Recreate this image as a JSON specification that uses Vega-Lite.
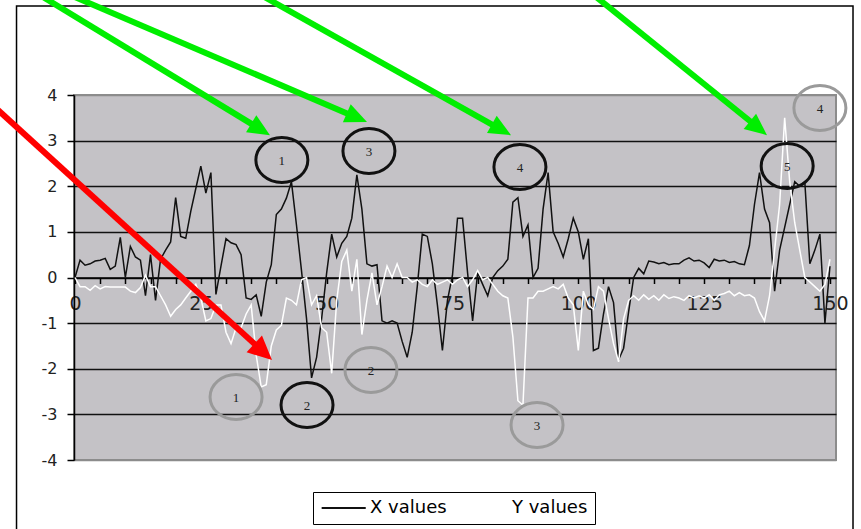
{
  "$schema": "https://vega.github.io/schema/vega-lite/v6.json",
  "width": 762,
  "height": 365,
  "autosize": {"type": "none"},
  "padding": {"left": 74, "top": 95, "right": 25, "bottom": 69},
  "background": "white",
  "config": {
    "view": {"fill": "#c4c2c6", "stroke": "#8c8c8c", "strokeWidth": 2},
    "font": "DejaVu Sans",
    "axis": {"labelOverlap": false, "labelFlush": false, "labelBound": false}
  },
  "datasets": {
    "frame": [{"x": -11.62, "x2": 154.58, "y": 5.95, "y2": -6.5}],
    "series": [
      {"t":0,"X values":0.0,"Y values":0.0},{"t":1,"X values":0.38,"Y values":-0.2},{"t":2,"X values":0.27,"Y values":-0.2},{"t":3,"X values":0.3,"Y values":-0.28},{"t":4,"X values":0.36,"Y values":-0.18},{"t":5,"X values":0.38,"Y values":-0.25},{"t":6,"X values":0.42,"Y values":-0.2},{"t":7,"X values":0.18,"Y values":-0.21},{"t":8,"X values":0.25,"Y values":-0.21},{"t":9,"X values":0.88,"Y values":-0.21},
      {"t":10,"X values":0.0,"Y values":-0.21},{"t":11,"X values":0.68,"Y values":-0.3},{"t":12,"X values":0.45,"Y values":-0.33},{"t":13,"X values":0.38,"Y values":-0.22},{"t":14,"X values":-0.4,"Y values":0.05},{"t":15,"X values":0.5,"Y values":-0.2},{"t":16,"X values":-0.5,"Y values":-0.2},{"t":17,"X values":0.4,"Y values":-0.4},{"t":18,"X values":0.6,"Y values":-0.6},{"t":19,"X values":0.78,"Y values":-0.85},
      {"t":20,"X values":1.75,"Y values":-0.7},{"t":21,"X values":0.9,"Y values":-0.6},{"t":22,"X values":0.86,"Y values":-0.45},{"t":23,"X values":1.45,"Y values":-0.3},{"t":24,"X values":1.95,"Y values":-0.15},{"t":25,"X values":2.44,"Y values":-0.45},{"t":26,"X values":1.85,"Y values":-0.95},{"t":27,"X values":2.3,"Y values":-0.9},{"t":28,"X values":-0.37,"Y values":-0.6},{"t":29,"X values":0.25,"Y values":-0.6},
      {"t":30,"X values":0.85,"Y values":-1.2},{"t":31,"X values":0.76,"Y values":-1.45},{"t":32,"X values":0.72,"Y values":-1.1},{"t":33,"X values":0.5,"Y values":-1.1},{"t":34,"X values":-0.45,"Y values":-0.8},{"t":35,"X values":-0.48,"Y values":-0.6},{"t":36,"X values":-0.38,"Y values":-1.7},{"t":37,"X values":-0.85,"Y values":-2.4},{"t":38,"X values":-0.1,"Y values":-2.35},{"t":39,"X values":0.28,"Y values":-1.5},
      {"t":40,"X values":1.38,"Y values":-1.15},{"t":41,"X values":1.5,"Y values":-1.05},{"t":42,"X values":1.74,"Y values":-0.45},{"t":43,"X values":2.1,"Y values":-0.5},{"t":44,"X values":1.15,"Y values":-0.6},{"t":45,"X values":0.15,"Y values":-0.05},{"t":46,"X values":-0.9,"Y values":0.0},{"t":47,"X values":-2.2,"Y values":-0.6},{"t":48,"X values":-1.75,"Y values":-0.4},{"t":49,"X values":-0.9,"Y values":-1.1},
      {"t":50,"X values":0.1,"Y values":-1.2},{"t":51,"X values":0.95,"Y values":-2.1},{"t":52,"X values":0.45,"Y values":-0.5},{"t":53,"X values":0.75,"Y values":0.35},{"t":54,"X values":0.9,"Y values":0.6},{"t":55,"X values":1.3,"Y values":-0.3},{"t":56,"X values":2.25,"Y values":0.4},{"t":57,"X values":1.5,"Y values":-1.25},{"t":58,"X values":0.3,"Y values":-0.5},{"t":59,"X values":0.25,"Y values":0.1},
      {"t":60,"X values":0.28,"Y values":-0.6},{"t":61,"X values":-0.95,"Y values":-0.2},{"t":62,"X values":-1.0,"Y values":0.25},{"t":63,"X values":-0.95,"Y values":0.0},{"t":64,"X values":-1.0,"Y values":0.3},{"t":65,"X values":-1.4,"Y values":0.0},{"t":66,"X values":-1.75,"Y values":0.0},{"t":67,"X values":-1.2,"Y values":-0.1},{"t":68,"X values":-0.2,"Y values":-0.05},{"t":69,"X values":0.95,"Y values":-0.15},
      {"t":70,"X values":0.9,"Y values":-0.2},{"t":71,"X values":0.3,"Y values":-0.05},{"t":72,"X values":-0.6,"Y values":-0.15},{"t":73,"X values":-1.6,"Y values":-0.1},{"t":74,"X values":-0.5,"Y values":-0.05},{"t":75,"X values":0.05,"Y values":-0.15},{"t":76,"X values":1.3,"Y values":-0.05},{"t":77,"X values":1.3,"Y values":0.0},{"t":78,"X values":0.1,"Y values":-0.2},{"t":79,"X values":-0.95,"Y values":-0.05},
      {"t":80,"X values":0.1,"Y values":0.15},{"t":81,"X values":-0.15,"Y values":-0.05},{"t":82,"X values":-0.4,"Y values":0.0},{"t":83,"X values":0.0,"Y values":-0.15},{"t":84,"X values":0.15,"Y values":-0.3},{"t":85,"X values":0.25,"Y values":-0.4},{"t":86,"X values":0.4,"Y values":-0.45},{"t":87,"X values":1.65,"Y values":-1.3},{"t":88,"X values":1.75,"Y values":-2.7},{"t":89,"X values":0.9,"Y values":-2.8},
      {"t":90,"X values":1.15,"Y values":-0.45},{"t":91,"X values":0.0,"Y values":-0.45},{"t":92,"X values":0.2,"Y values":-0.3},{"t":93,"X values":1.5,"Y values":-0.3},{"t":94,"X values":2.3,"Y values":-0.25},{"t":95,"X values":1.0,"Y values":-0.2},{"t":96,"X values":0.75,"Y values":-0.25},{"t":97,"X values":0.45,"Y values":-0.15},{"t":98,"X values":0.85,"Y values":-0.45},{"t":99,"X values":1.3,"Y values":-0.6},
      {"t":100,"X values":1.0,"Y values":-1.6},{"t":101,"X values":0.4,"Y values":-0.3},{"t":102,"X values":0.85,"Y values":-0.6},{"t":103,"X values":-1.6,"Y values":-0.7},{"t":104,"X values":-1.55,"Y values":-0.2},{"t":105,"X values":-0.8,"Y values":-0.3},{"t":106,"X values":-0.2,"Y values":-0.9},{"t":107,"X values":-0.55,"Y values":-1.45},{"t":108,"X values":-1.8,"Y values":-1.85},{"t":109,"X values":-1.55,"Y values":-0.9},
      {"t":110,"X values":-0.75,"Y values":-0.5},{"t":111,"X values":0.0,"Y values":-0.4},{"t":112,"X values":0.2,"Y values":-0.5},{"t":113,"X values":0.08,"Y values":-0.38},{"t":114,"X values":0.36,"Y values":-0.48},{"t":115,"X values":0.34,"Y values":-0.4},{"t":116,"X values":0.3,"Y values":-0.5},{"t":117,"X values":0.33,"Y values":-0.38},{"t":118,"X values":0.28,"Y values":-0.46},{"t":119,"X values":0.3,"Y values":-0.42},
      {"t":120,"X values":0.3,"Y values":-0.45},{"t":121,"X values":0.38,"Y values":-0.5},{"t":122,"X values":0.43,"Y values":-0.4},{"t":123,"X values":0.36,"Y values":-0.45},{"t":124,"X values":0.38,"Y values":-0.4},{"t":125,"X values":0.32,"Y values":-0.45},{"t":126,"X values":0.22,"Y values":-0.38},{"t":127,"X values":0.4,"Y values":-0.5},{"t":128,"X values":0.36,"Y values":-0.38},{"t":129,"X values":0.38,"Y values":-0.35},
      {"t":130,"X values":0.33,"Y values":-0.3},{"t":131,"X values":0.35,"Y values":-0.4},{"t":132,"X values":0.3,"Y values":-0.33},{"t":133,"X values":0.28,"Y values":-0.4},{"t":134,"X values":0.7,"Y values":-0.38},{"t":135,"X values":1.6,"Y values":-0.45},{"t":136,"X values":2.3,"Y values":-0.75},{"t":137,"X values":1.5,"Y values":-0.95},{"t":138,"X values":1.2,"Y values":-0.4},{"t":139,"X values":-0.3,"Y values":0.6},
      {"t":140,"X values":0.6,"Y values":1.6},{"t":141,"X values":1.1,"Y values":3.5},{"t":142,"X values":1.6,"Y values":2.1},{"t":143,"X values":2.1,"Y values":1.2},{"t":144,"X values":2.0,"Y values":0.6},{"t":145,"X values":2.1,"Y values":0.0},{"t":146,"X values":0.3,"Y values":-0.1},{"t":147,"X values":0.6,"Y values":-0.2},{"t":148,"X values":0.95,"Y values":-0.3},{"t":149,"X values":-1.0,"Y values":-0.15},
      {"t":150,"X values":0.25,"Y values":0.4}
    ],
    "circles": [
      {"series":"X values","label":"1","x":41.1,"y":2.575},
      {"series":"X values","label":"2","x":46.1,"y":-2.795},
      {"series":"X values","label":"3","x":58.4,"y":2.773},
      {"series":"X values","label":"4","x":88.4,"y":2.422},
      {"series":"X values","label":"5","x":141.5,"y":2.444},
      {"series":"Y values","label":"1","x":32.0,"y":-2.619},
      {"series":"Y values","label":"2","x":58.8,"y":-2.027},
      {"series":"Y values","label":"3","x":91.8,"y":-3.233},
      {"series":"Y values","label":"4","x":148.0,"y":3.715}
    ],
    "arrows": [
      {"points_to":"X values","x":-8.62,"y":6.30,"x2":36.36,"y2":3.28,"tx":38.74,"ty":3.12,"heading":31.3},
      {"points_to":"X values","x":-3.26,"y":6.30,"x2":55.45,"y2":3.53,"tx":58.02,"ty":3.41,"heading":23.2},
      {"points_to":"X values","x":35.19,"y":6.30,"x2":84.20,"y2":3.27,"tx":86.63,"ty":3.12,"heading":29.3},
      {"points_to":"X values","x":101.85,"y":6.30,"x2":135.32,"y2":3.32,"tx":137.49,"ty":3.12,"heading":38.9},
      {"points_to":"Y values","x":-16.89,"y":3.83,"x2":37.10,"y2":-1.60,"tx":39.14,"ty":-1.81,"heading":42.4}
    ]
  },
  "layer": [
    {
      "data": {"name": "series"},
      "transform": [{"fold": ["X values", "Y values"], "as": ["series", "value"]}],
      "mark": {"type": "line", "strokeWidth": 1.5},
      "encoding": {
        "x": {
          "field": "t", "type": "quantitative",
          "scale": {"domain": [-0.2, 151.2], "nice": false, "zero": false},
          "axis": {
            "orient": "bottom", "offset": -182.5, "title": null,
            "tickCount": 30,
            "labelExpr": "datum.value % 25 === 0 ? datum.label : ''",
            "grid": false, "domainColor": "black", "domainWidth": 1.5,
            "tickColor": "black", "tickSize": 6, "tickWidth": 1.5,
            "labelFont": "DejaVu Sans", "labelFontSize": 19, "labelColor": "#222222",
            "labelPadding": 11, "labelFlush": false, "labelOverlap": false
          }
        },
        "y": {
          "field": "value", "type": "quantitative",
          "scale": {"domain": [-4, 4], "nice": false, "zero": false},
          "axis": {
            "orient": "left", "title": null,
            "tickCount": 8,
            "labelExpr": "'' + datum.value",
            "grid": true,
            "gridColor": {"condition": {"test": "abs(datum.value) === 4", "value": "#8c8c8c"}, "value": "#111111"},
            "gridWidth": 1.3,
            "domainColor": "black", "domainWidth": 1.5,
            "tickColor": "black", "tickSize": 7, "tickWidth": 1.5,
            "labelFont": "DejaVu Sans", "labelFontSize": 16, "labelColor": "#222222",
            "labelPadding": 10
          }
        },
        "color": {
          "field": "series", "type": "nominal",
          "scale": {"domain": ["X values", "Y values"], "range": ["#111111", "#ffffff"]},
          "legend": {
            "orient": "none", "legendX": 239, "legendY": 397, "direction": "horizontal",
            "title": null, "symbolType": "M-1,0L5,0", "symbolSize": 216, "symbolStrokeWidth": 2,
            "labelFont": "DejaVu Sans", "labelFontSize": 18, "labelColor": "black",
            "strokeColor": "black", "fillColor": "white", "padding": 7,
            "columnPadding": 12, "labelOffset": 32
          }
        }
      }
    },
    {
      "data": {"name": "frame"},
      "mark": {"type": "rect", "fillOpacity": 0, "stroke": "black", "strokeWidth": 1.5},
      "encoding": {
        "x": {"field": "x", "type": "quantitative", "scale": {"domain": [-0.2, 151.2], "nice": false, "zero": false}},
        "x2": {"field": "x2"},
        "y": {"field": "y", "type": "quantitative", "scale": {"domain": [-4, 4], "nice": false, "zero": false}},
        "y2": {"field": "y2"}
      }
    },
    {
      "data": {"name": "circles"},
      "transform": [{"filter": "datum.series === 'X values'"}],
      "mark": {"type": "point", "shape": "M1,0C1,0.478,0.552,0.865,0,0.865C-0.552,0.865,-1,0.478,-1,0C-1,-0.478,-0.552,-0.865,0,-0.865C0.552,-0.865,1,-0.478,1,0Z", "size": 2704, "filled": false, "color": "#111111", "strokeWidth": 3, "opacity": 1},
      "encoding": {
        "x": {"field": "x", "type": "quantitative", "scale": {"domain": [-0.2, 151.2], "nice": false, "zero": false}},
        "y": {"field": "y", "type": "quantitative", "scale": {"domain": [-4, 4], "nice": false, "zero": false}}
      }
    },
    {
      "data": {"name": "circles"},
      "transform": [{"filter": "datum.series === 'Y values'"}],
      "mark": {"type": "point", "shape": "M1,0C1,0.478,0.552,0.865,0,0.865C-0.552,0.865,-1,0.478,-1,0C-1,-0.478,-0.552,-0.865,0,-0.865C0.552,-0.865,1,-0.478,1,0Z", "size": 2704, "filled": false, "color": "#9a9a9a", "strokeWidth": 3, "opacity": 1},
      "encoding": {
        "x": {"field": "x", "type": "quantitative", "scale": {"domain": [-0.2, 151.2], "nice": false, "zero": false}},
        "y": {"field": "y", "type": "quantitative", "scale": {"domain": [-4, 4], "nice": false, "zero": false}}
      }
    },
    {
      "data": {"name": "circles"},
      "mark": {"type": "text", "font": "Liberation Serif", "fontSize": 13, "color": "#222222", "dy": 1},
      "encoding": {
        "x": {"field": "x", "type": "quantitative", "scale": {"domain": [-0.2, 151.2], "nice": false, "zero": false}},
        "y": {"field": "y", "type": "quantitative", "scale": {"domain": [-4, 4], "nice": false, "zero": false}},
        "text": {"field": "label"}
      }
    },
    {
      "data": {"name": "arrows"},
      "transform": [{"filter": "datum.points_to === 'X values'"}],
      "mark": {"type": "rule", "color": "#00ee00", "strokeWidth": 6, "strokeCap": "butt"},
      "encoding": {
        "x": {"field": "x", "type": "quantitative", "scale": {"domain": [-0.2, 151.2], "nice": false, "zero": false}},
        "y": {"field": "y", "type": "quantitative", "scale": {"domain": [-4, 4], "nice": false, "zero": false}},
        "x2": {"field": "x2"},
        "y2": {"field": "y2"}
      }
    },
    {
      "data": {"name": "arrows"},
      "transform": [{"filter": "datum.points_to === 'Y values'"}],
      "mark": {"type": "rule", "color": "#ff0000", "strokeWidth": 6, "strokeCap": "butt"},
      "encoding": {
        "x": {"field": "x", "type": "quantitative", "scale": {"domain": [-0.2, 151.2], "nice": false, "zero": false}},
        "y": {"field": "y", "type": "quantitative", "scale": {"domain": [-4, 4], "nice": false, "zero": false}},
        "x2": {"field": "x2"},
        "y2": {"field": "y2"}
      }
    },
    {
      "data": {"name": "arrows"},
      "transform": [{"filter": "datum.points_to === 'X values'"}],
      "mark": {"type": "point", "shape": "M0,0L-2,-0.9L-2,0.9Z", "size": 484, "filled": true, "color": "#00ee00", "opacity": 1, "strokeWidth": 0},
      "encoding": {
        "x": {"field": "tx", "type": "quantitative", "scale": {"domain": [-0.2, 151.2], "nice": false, "zero": false}},
        "y": {"field": "ty", "type": "quantitative", "scale": {"domain": [-4, 4], "nice": false, "zero": false}},
        "angle": {"field": "heading", "type": "quantitative", "scale": null}
      }
    },
    {
      "data": {"name": "arrows"},
      "transform": [{"filter": "datum.points_to === 'Y values'"}],
      "mark": {"type": "point", "shape": "M0,0L-2,-0.95L-2,0.95Z", "size": 576, "filled": true, "color": "#ff0000", "opacity": 1, "strokeWidth": 0},
      "encoding": {
        "x": {"field": "tx", "type": "quantitative", "scale": {"domain": [-0.2, 151.2], "nice": false, "zero": false}},
        "y": {"field": "ty", "type": "quantitative", "scale": {"domain": [-4, 4], "nice": false, "zero": false}},
        "angle": {"field": "heading", "type": "quantitative", "scale": null}
      }
    }
  ]
}
